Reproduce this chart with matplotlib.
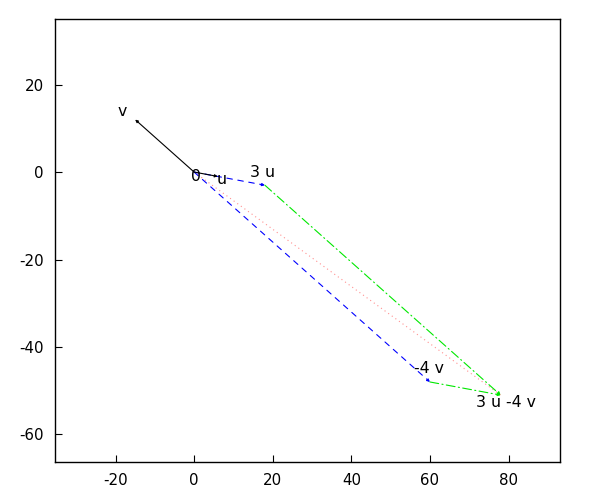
import matplotlib
matplotlib.use("Agg")
import matplotlib.pyplot as plt
import numpy as np

plt.rcParams["axes.unicode_minus"] = False

# vectors
u = np.array([6.0, -1.0])
v = np.array([-15.0, 12.0])
origin = np.array([0.0, 0.0])
p3u = 3 * u
m4v = -4 * v
s = 3 * u - 4 * v

labels = ["v", "0", "u", "3 u", "-4 v", "3 u -4 v"]
label_points = [v, origin, u, p3u, m4v, s]
label_offsets = [(-9, 5.5), (1, -3), (3, -2.5), (-2, 9), (-1, 9.5), (4, -5)]

xticks = [-20, 0, 20, 40, 60, 80]
yticks = [-60, -40, -20, 0, 20]

fig = plt.figure(figsize=(6, 5), dpi=100)
ax = fig.add_axes([55/600, 38/500, 505/600, 443/500])


def arrow(a, b, color, ls, lw=0.8):
    ax.annotate("", xy=b, xytext=a,
                arrowprops=dict(arrowstyle="-|>", color=color, lw=lw,
                                linestyle=ls, shrinkA=0, shrinkB=0,
                                mutation_scale=4))

# dotted pink diagonal
ax.plot([origin[0], s[0]], [origin[1], s[1]], color="#ff9090", lw=0.8,
        linestyle=(0, (1, 3)))
# blue dashed
arrow(origin, p3u, "#0000ff", (0, (5, 5)))
arrow(origin, m4v, "#0000ff", (0, (5, 5)))
# green dash-dot
arrow(p3u, s, "#00e800", (0, (8, 3, 1, 3)))
arrow(m4v, s, "#00e800", (0, (8, 3, 1, 3)))
# black solid
arrow(origin, v, "black", "-")
arrow(origin, u, "black", "-")

for t, p, off in zip(labels, label_points, label_offsets):
    ax.annotate(t, xy=p, xytext=off, textcoords="offset points",
                ha="center", va="center", fontsize=11.3)

ax.set_xlim(-35.4, 93.1)
ax.set_ylim(-66.3, 35.0)
ax.set_xticks(xticks)
ax.set_yticks(yticks)
ax.tick_params(direction="in", length=5, labelsize=10.8, top=False, right=False, pad=8)
for sp in ax.spines.values():
    sp.set_linewidth(1.0)

fig.savefig("out.png", dpi=100)
